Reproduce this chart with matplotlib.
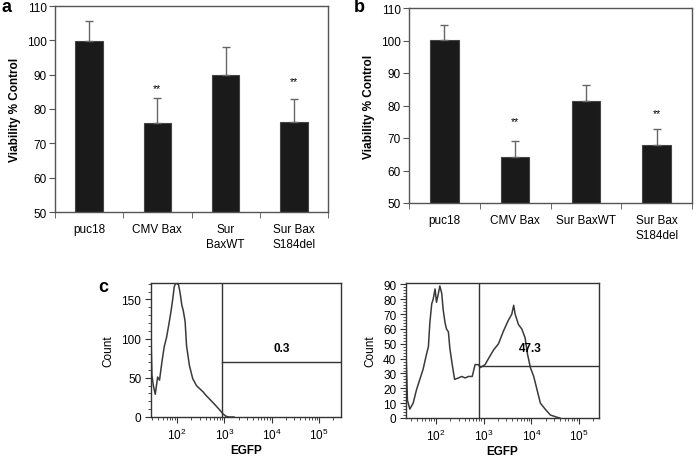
import numpy as np
import matplotlib
matplotlib.use('Agg')
import matplotlib.pyplot as plt
from matplotlib.ticker import FixedLocator, NullFormatter, LogLocator, MultipleLocator

plt.rcParams['font.family'] = ['Liberation Sans', 'DejaVu Sans']
plt.rcParams['mathtext.fontset'] = 'custom'
plt.rcParams['mathtext.rm'] = 'Liberation Sans'
plt.rcParams['mathtext.it'] = 'Liberation Sans:italic'
plt.rcParams['mathtext.bf'] = 'Liberation Sans:bold'

# viability bars, panel a and b
cats_a = ['puc18', 'CMV Bax', 'Sur\nBaxWT', 'Sur Bax\nS184del']
cats_b = ['puc18', 'CMV Bax', 'Sur BaxWT', 'Sur Bax\nS184del']
means_a = [99.7, 75.8, 90.0, 76.3]
err_a = [5.8, 7.3, 8.2, 6.5]
stars_a = [None, 86.0, None, 88.2]
means_b = [100.2, 64.2, 81.5, 67.9]
err_b = [4.6, 4.9, 4.9, 4.9]
stars_b = [None, 75.2, None, 77.6]

# flow histograms (log10 EGFP, count)
left_log = [1.45, 1.452, 1.47, 1.50, 1.54, 1.59, 1.63, 1.68, 1.73, 1.78, 1.84, 1.87,
            1.91, 1.94, 1.97, 2.03, 2.06, 2.10, 2.13, 2.17, 2.20, 2.26, 2.33, 2.41,
            2.48, 2.55, 2.62, 2.70, 2.78, 2.84, 2.90, 2.97, 3.03, 3.10, 3.20]
left_cnt = [98, 98, 53, 40, 29, 51, 47, 70, 90, 102, 123, 134,
            151, 166, 171, 169, 160, 143, 136, 122, 91, 66, 49, 40,
            36, 32, 27, 22, 17, 13, 9, 4, 1, 0, 0]
left_gate_x = 10 ** 2.95
left_gate_y = 70
left_pct = '0.3'

right_log = [1.37, 1.40, 1.45, 1.52, 1.59, 1.66, 1.73, 1.80, 1.84, 1.87, 1.91, 1.94,
             1.98, 2.01, 2.05, 2.08, 2.12, 2.15, 2.19, 2.22, 2.26, 2.29, 2.34, 2.39,
             2.47, 2.54, 2.61, 2.68, 2.76, 2.82, 2.89, 2.93, 3.03, 3.10, 3.21, 3.31,
             3.42, 3.52, 3.59, 3.63, 3.66, 3.73, 3.80, 3.87, 3.92, 3.98, 4.05, 4.12,
             4.19, 4.29, 4.40, 4.54, 4.60]
right_cnt = [45, 12, 6, 10, 19, 26, 33, 43, 48, 64, 77, 80,
             87, 78, 84, 89, 84, 73, 64, 60, 58, 47, 36, 26,
             27, 28, 27, 28, 28, 36, 36, 34, 36, 40, 46, 50,
             59, 66, 70, 76, 70, 63, 60, 54, 43, 34, 28, 19,
             10, 6, 2, 0.5, 0]
right_gate_x = 10 ** 2.91
right_gate_y = 35
right_pct = '47.3'

W, H = 694, 460
fig = plt.figure(figsize=(W / 100, H / 100), dpi=100)

def frac(l, t, r, b):
    return [l / W, 1 - b / H, (r - l) / W, (b - t) / H]

spine_c = '#555555'
fs = 8.5

def bar_panel(rect, cats, means, err, stars):
    ax = fig.add_axes(frac(*rect))
    x = np.arange(len(cats))
    ax.bar(x, means, width=0.4, color='#1a1a1a', edgecolor='#444444', lw=0.8)
    ax.errorbar(x, means, yerr=[np.zeros(len(err)), err], fmt='none',
                ecolor='#666666', elinewidth=1.0, capsize=3, capthick=1.0)
    for xi, s in zip(x, stars):
        if s is not None:
            ax.text(xi, s, '**', ha='center', va='center', fontsize=7.5)
    ax.set_xlim(-0.5, len(cats) - 0.5)
    ax.set_ylim(50, 110)
    ax.set_yticks(range(50, 111, 10))
    ax.set_xticks(x)
    ax.set_xticklabels(cats, fontsize=fs, linespacing=1.3)
    ax.xaxis.set_minor_locator(FixedLocator(np.arange(-0.5, len(cats), 1.0)))
    ax.tick_params(axis='x', which='major', length=0, pad=8)
    ax.tick_params(axis='x', which='minor', length=4, color=spine_c)
    ax.tick_params(axis='y', labelsize=fs, length=4, color=spine_c, pad=2)
    ax.set_ylabel('Viability % Control', fontsize=fs, fontweight='bold', labelpad=4)
    for sp in ax.spines.values():
        sp.set_color(spine_c)
        sp.set_linewidth(1.0)
    return ax

ax_a = bar_panel((55, 7, 328, 213), cats_a, means_a, err_a, stars_a)
ax_b = bar_panel((409, 9, 692, 204), cats_b, means_b, err_b, stars_b)

fig.text(2 / W, 1 - 8 / H, 'a', fontsize=13, fontweight='bold', va='center', ha='left')
fig.text(354 / W, 1 - 8 / H, 'b', fontsize=13, fontweight='bold', va='center', ha='left')
fig.text(98 / W, 1 - 288 / H, 'c', fontsize=13, fontweight='bold', va='center', ha='left')

def hist_panel(rect, logs, cnts, xlim, ylim, ymajor, yminor, gx, gy, pct, pct_xy):
    ax = fig.add_axes(frac(*rect))
    ax.plot(10 ** np.array(logs), cnts, color='#3a3a3a', lw=1.1)
    ax.set_xscale('log')
    ax.set_xlim(10 ** xlim[0], 10 ** xlim[1])
    ax.set_ylim(*ylim)
    ax.axvline(gx, color='#333333', lw=1.0)
    ax.plot([gx, 10 ** xlim[1]], [gy, gy], color='#333333', lw=1.0)
    ax.text(10 ** pct_xy[0], pct_xy[1], pct, ha='center', va='center',
            fontsize=fs, fontweight='bold')
    ax.xaxis.set_major_locator(FixedLocator([1e2, 1e3, 1e4, 1e5]))
    ax.xaxis.set_minor_locator(LogLocator(base=10, subs=np.arange(2, 10)))
    ax.xaxis.set_minor_formatter(NullFormatter())
    ax.yaxis.set_major_locator(MultipleLocator(ymajor))
    ax.yaxis.set_minor_locator(MultipleLocator(yminor))
    ax.tick_params(which='major', length=4, labelsize=fs, color='#333333', pad=3)
    ax.tick_params(which='minor', length=2.5, color='#333333')
    ax.set_xlabel('EGFP', fontsize=fs, fontweight='bold', labelpad=1.5)
    ax.set_ylabel('Count', fontsize=fs, labelpad=5)
    for sp in ax.spines.values():
        sp.set_color('#333333')
        sp.set_linewidth(1.0)
    return ax

hist_panel((151, 284, 341, 418), left_log, left_cnt, (1.45, 5.46), (0, 171), 50, 10,
           left_gate_x, left_gate_y, left_pct, (4.2, 88))
hist_panel((406, 284, 599, 419), right_log, right_cnt, (1.37, 5.42), (0, 91), 10, 2,
           right_gate_x, right_gate_y, right_pct, (3.97, 47.5))

fig.savefig('out.png', dpi=100)
